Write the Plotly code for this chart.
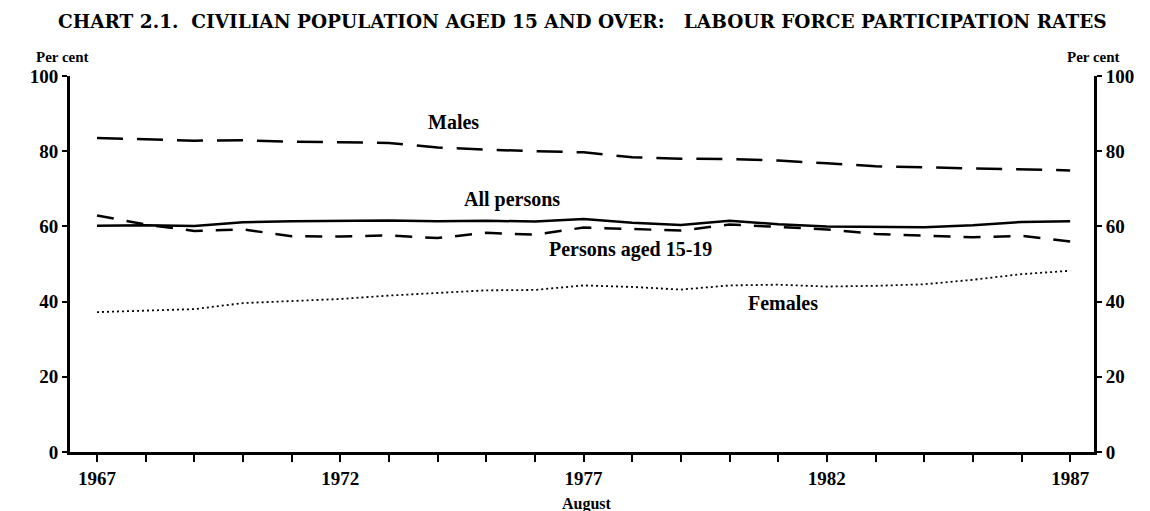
import plotly.graph_objects as go

years = list(range(1967, 1988))
males = [83.5, 83.1, 82.8, 82.9, 82.5, 82.4, 82.2, 81.0, 80.4, 80.0, 79.7,
         78.4, 78.0, 77.9, 77.5, 76.8, 76.0, 75.7, 75.4, 75.0, 74.9]
all_persons = [60.2, 60.3, 60.1, 61.1, 61.4, 61.5, 61.6, 61.4, 61.5, 61.3, 62.0,
               61.0, 60.4, 61.5, 60.6, 60.0, 59.8, 59.8, 60.3, 61.2, 61.4]
teens = [62.9, 60.5, 58.8, 59.2, 57.4, 57.3, 57.6, 56.9, 58.3, 57.8, 59.7,
         59.4, 58.9, 60.5, 59.8, 59.2, 58.0, 57.6, 57.1, 57.5, 56.0]
females = [37.2, 37.6, 38.0, 39.6, 40.1, 40.7, 41.6, 42.3, 43.0, 43.1, 44.3,
           43.9, 43.2, 44.3, 44.5, 44.0, 44.2, 44.6, 45.8, 47.3, 48.2]
tick_years = years
tick_labels = [str(y) if (y - 1967) % 5 == 0 else "" for y in years]
y_ticks = [0, 20, 40, 60, 80, 100]

FONT = "Liberation Serif"
fig = go.Figure()
fig.add_trace(go.Scatter(x=years, y=males, mode="lines", name="Males",
                         line=dict(color="black", width=2.5, dash="26px,14px")))
fig.add_trace(go.Scatter(x=years, y=all_persons, mode="lines", name="All persons",
                         line=dict(color="black", width=2.5)))
fig.add_trace(go.Scatter(x=years, y=teens, mode="lines", name="Persons aged 15-19",
                         line=dict(color="black", width=2.5, dash="17px,13px")))
fig.add_trace(go.Scatter(x=years, y=females, mode="lines", name="Females",
                         line=dict(color="black", width=1.8, dash="2px,3px")))
# invisible trace to make the right axis render
fig.add_trace(go.Scatter(x=[years[0]], y=[0], yaxis="y2", mode="markers",
                         marker=dict(opacity=0), hoverinfo="skip", showlegend=False))

ann_font = dict(family=FONT, size=20, color="black")
labels = [("Males", 1974.32, 87.7), ("All persons", 1975.53, 67.2),
          ("Persons aged 15-19", 1977.96, 53.9), ("Females", 1981.1, 39.7)]
for txt, x, y in labels:
    fig.add_annotation(x=x, y=y, text="<b>" + txt + "</b>", showarrow=False,
                       font=ann_font, xref="x", yref="y")

fig.add_annotation(x=0.5, y=1.0, xref="paper", yref="paper", yshift=55, yanchor="middle",
                   text="<b>CHART 2.1.  CIVILIAN POPULATION AGED 15 AND OVER:   LABOUR FORCE PARTICIPATION RATES</b>",
                   showarrow=False, font=dict(family="DejaVu Serif", size=18.5, color="black"))
fig.add_annotation(x=0, y=1.0, xref="paper", yref="paper", xshift=-36, yshift=19, yanchor="middle",
                   text="<b>Per cent</b>", showarrow=False, font=dict(family=FONT, size=15, color="black"))
fig.add_annotation(x=1, y=1.0, xref="paper", yref="paper", xshift=28, yshift=19, yanchor="middle",
                   text="<b>Per cent</b>", showarrow=False, font=dict(family=FONT, size=15, color="black"))
fig.add_annotation(x=1977.07, y=0, xref="x", yref="paper", yshift=-52, yanchor="middle",
                   text="<b>August</b>", showarrow=False, font=dict(family=FONT, size=16, color="black"))

axis_font = dict(family=FONT, size=19, color="black")
# page body has an 8px margin, so the figure is offset by 8px in the window
fig.update_layout(
    width=1142, height=503,
    margin=dict(l=62, r=56, t=68, b=59),
    paper_bgcolor="white", plot_bgcolor="white",
    showlegend=False,
    xaxis=dict(range=[1966.445, 1987.49], tickmode="array", tickvals=tick_years,
               ticktext=["<b>" + t + "</b>" if t else "" for t in tick_labels],
               ticks="outside", ticklen=7, tickwidth=2, tickcolor="black",
               showline=True, linecolor="black", linewidth=3, showgrid=False,
               zeroline=False, tickfont=axis_font),
    yaxis=dict(range=[0, 100], tickmode="array", tickvals=y_ticks,
               ticktext=["<b>%d</b>" % v for v in y_ticks],
               ticks="outside", ticklen=5, tickwidth=2, tickcolor="black",
               showline=True, linecolor="black", linewidth=3, showgrid=False,
               zeroline=False, tickfont=axis_font),
    yaxis2=dict(range=[0, 100], overlaying="y", side="right", tickmode="array",
                tickvals=y_ticks, ticktext=["<b>%d</b>" % v for v in y_ticks],
                ticks="outside", ticklen=5, tickwidth=2, tickcolor="black",
                showline=True, linecolor="black", linewidth=3, showgrid=False,
                zeroline=False, tickfont=axis_font),
)
fig.write_html("out.html")
